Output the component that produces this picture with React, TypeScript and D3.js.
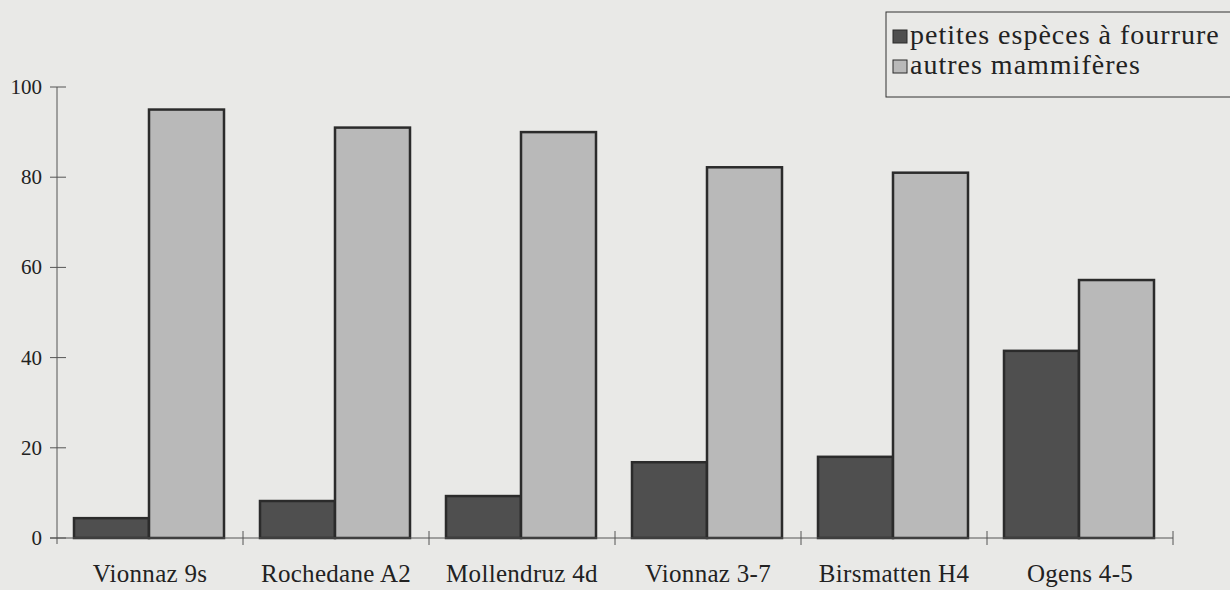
import * as d3 from 'd3';

const categories = ['Vionnaz 9s', 'Rochedane A2', 'Mollendruz 4d', 'Vionnaz 3-7', 'Birsmatten H4', 'Ogens 4-5'];
const seriesNames = ['petites espèces à fourrure', 'autres mammifères'];
const smallFur = [4.4, 8.2, 9.3, 16.8, 18.0, 41.5];
const otherMammals = [95.0, 91.0, 90.0, 82.2, 81.0, 57.2];
const yTicks = [0, 20, 40, 60, 80, 100];

const fills = ['#4f4f4f', '#b9b9b9'];
const font = '"Liberation Serif", "DejaVu Serif", serif';

export default function App() {
  const width = 1230;
  const height = 590;

  const x = d3.scaleBand<string>().domain(categories).range([57, 1173]).padding(0);
  const sub = d3.scaleBand<number>().domain([0, 1]).range([17, 167]).padding(0);
  const y = d3.scaleLinear().domain([0, 100]).range([538, 87]);

  const values = [smallFur, otherMammals];
  const bandEdges = categories.map(c => (x(c) ?? 0) + x.bandwidth());

  return (
    <svg
      width={width}
      height={height}
      style={{ position: 'absolute', left: 0, top: 0, display: 'block' }}
      fontFamily={font}
    >
      <rect width={width} height={height} fill="#e9e9e7" />

      {/* bars */}
      {categories.map((c, i) => (
        <g key={c} transform={`translate(${x(c)},0)`}>
          {values.map((vals, s) => (
            <rect
              key={s}
              x={sub(s)}
              y={y(vals[i])}
              width={sub.bandwidth()}
              height={y(0) - y(vals[i])}
              fill={fills[s]}
              stroke="#2b2b2b"
              strokeWidth={2.5}
            />
          ))}
        </g>
      ))}

      {/* y axis */}
      <line x1={57} x2={57} y1={y(100)} y2={544} stroke="#555" strokeWidth={1} />
      {yTicks.map(t => (
        <g key={t}>
          <line x1={50} x2={66} y1={y(t)} y2={y(t)} stroke="#555" strokeWidth={1} />
          <text x={42} y={y(t)} textAnchor="end" dominantBaseline="central" fontSize={21} fill="#222">
            {t}
          </text>
        </g>
      ))}

      {/* x axis */}
      <line x1={50} x2={1173} y1={y(0)} y2={y(0)} stroke="#555" strokeWidth={1} />
      {bandEdges.map((bx, i) => (
        <line key={i} x1={bx} x2={bx} y1={531} y2={545} stroke="#555" strokeWidth={1} />
      ))}
      {categories.map(c => (
        <text
          key={c}
          x={(x(c) ?? 0) + x.bandwidth() / 2}
          y={582}
          textAnchor="middle"
          fontSize={25}
          fill="#222"
          letterSpacing={0.3}
        >
          {c}
        </text>
      ))}

      {/* legend */}
      <rect x={886} y={12} width={370} height={85} fill="none" stroke="#333" strokeWidth={1} />
      {seriesNames.map((name, s) => (
        <g key={name}>
          <rect x={893} y={30 + s * 30} width={14} height={13} fill={fills[s]} stroke="#2b2b2b" strokeWidth={1} />
          <text x={910} y={44 + s * 30} fontSize={28} fill="#222" letterSpacing={1}>
            {name}
          </text>
        </g>
      ))}
    </svg>
  );
}
